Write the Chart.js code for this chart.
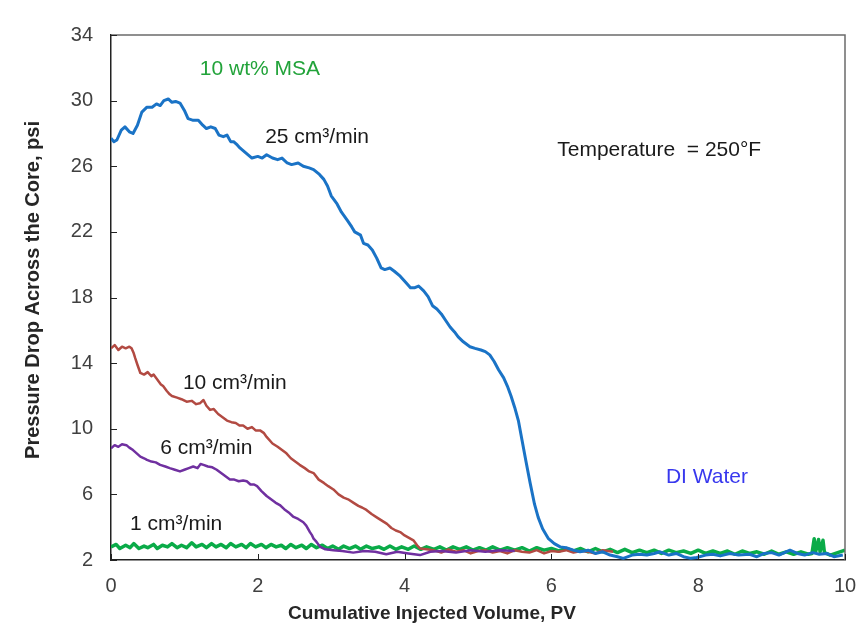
<!DOCTYPE html>
<html>
<head>
<meta charset="utf-8">
<title>Pressure drop vs injected volume</title>
<script src="https://cdn.jsdelivr.net/npm/chart.js@4.4.0/dist/chart.umd.min.js"></script>
<style>
  html, body { margin: 0; padding: 0; background: #fff; }
  #wrap { width: 859px; height: 633px; }
</style>
</head>
<body>
<div id="wrap"><canvas id="pressureChart" width="859" height="633"></canvas></div>
<script>
// axis ticks
const xTicks = [0, 2, 4, 6, 8, 10];
const yTicks = [2, 6, 10, 14, 18, 22, 26, 30, 34];

// [PV, psi] for each injection rate
const rate25 = [
  [0, 27.7], [0.04, 27.5], [0.08, 27.6], [0.14, 28.2], [0.19, 28.4], [0.25, 28.1], [0.30, 28.0],
  [0.36, 28.5], [0.42, 29.3], [0.49, 29.6], [0.56, 29.6], [0.62, 29.8], [0.67, 29.7], [0.72, 30.0],
  [0.78, 30.1], [0.83, 29.9], [0.88, 29.95], [0.94, 29.85], [1.0, 29.4], [1.05, 28.9], [1.12, 28.8],
  [1.19, 28.8], [1.25, 28.5], [1.30, 28.3], [1.36, 28.4], [1.42, 28.3], [1.47, 27.9], [1.53, 27.8],
  [1.58, 27.9], [1.63, 27.5], [1.67, 27.5], [1.72, 27.3], [1.76, 27.1], [1.84, 26.8], [1.92, 26.5],
  [2.0, 26.6], [2.06, 26.5], [2.12, 26.7], [2.2, 26.5], [2.27, 26.4], [2.33, 26.5], [2.40, 26.2],
  [2.46, 26.1], [2.55, 26.2], [2.62, 26.0], [2.70, 25.9], [2.76, 25.8], [2.84, 25.5], [2.90, 25.2],
  [2.95, 24.8], [3.0, 24.2], [3.08, 23.7], [3.14, 23.2], [3.22, 22.7], [3.28, 22.3], [3.32, 22.0],
  [3.40, 21.8], [3.44, 21.3], [3.50, 21.2], [3.56, 20.9], [3.62, 20.4], [3.68, 19.8], [3.73, 19.7],
  [3.80, 19.8], [3.86, 19.6], [3.94, 19.3], [4.02, 18.9], [4.08, 18.6], [4.14, 18.6], [4.19, 18.7],
  [4.26, 18.4], [4.32, 18.05], [4.38, 17.5], [4.44, 17.3], [4.50, 17.0], [4.56, 16.6], [4.62, 16.2],
  [4.68, 15.9], [4.73, 15.6], [4.80, 15.3], [4.89, 15.0], [4.96, 14.9], [5.04, 14.8], [5.10, 14.7],
  [5.16, 14.5], [5.22, 14.1], [5.28, 13.6], [5.35, 13.1], [5.40, 12.6], [5.45, 12.0], [5.50, 11.3],
  [5.55, 10.5], [5.60, 9.3], [5.65, 8.1], [5.71, 6.7], [5.77, 5.4], [5.82, 4.6], [5.88, 3.9],
  [5.96, 3.3], [6.04, 3.0], [6.12, 2.8], [6.2, 2.75], [6.3, 2.6], [6.39, 2.5], [6.5, 2.6],
  [6.6, 2.4], [6.7, 2.5], [6.8, 2.3], [6.9, 2.2], [6.98, 2.1], [7.1, 2.3], [7.2, 2.35], [7.3, 2.3],
  [7.4, 2.4], [7.48, 2.5], [7.6, 2.3], [7.7, 2.4], [7.8, 2.2], [7.9, 2.1], [7.98, 2.15], [8.1, 2.3],
  [8.2, 2.35], [8.3, 2.25], [8.43, 2.4], [8.55, 2.3], [8.7, 2.35], [8.8, 2.2], [8.9, 2.4], [9.0, 2.45],
  [9.1, 2.3], [9.25, 2.6], [9.35, 2.4], [9.45, 2.3], [9.56, 2.45], [9.65, 2.35], [9.75, 2.4],
  [9.85, 2.2], [9.97, 2.3]
];

const rate10 = [
  [0, 14.9], [0.05, 15.1], [0.1, 14.8], [0.15, 15.0], [0.2, 14.9], [0.25, 15.0], [0.28, 14.9],
  [0.31, 14.6], [0.33, 14.3], [0.36, 13.9], [0.40, 13.4], [0.45, 13.3], [0.5, 13.45], [0.55, 13.2],
  [0.58, 13.3], [0.63, 13.0], [0.68, 12.7], [0.71, 12.6], [0.76, 12.3], [0.8, 12.1], [0.83, 12.0],
  [0.9, 11.9], [0.96, 11.8], [1.03, 11.65], [1.1, 11.7], [1.16, 11.5], [1.21, 11.55], [1.26, 11.75],
  [1.3, 11.4], [1.35, 11.15], [1.4, 11.2], [1.46, 10.9], [1.52, 10.7], [1.58, 10.5], [1.64, 10.4],
  [1.7, 10.35], [1.75, 10.2], [1.8, 10.2], [1.86, 10.0], [1.92, 10.1], [1.97, 9.9], [2.03, 9.9],
  [2.08, 9.75], [2.12, 9.5], [2.2, 9.1], [2.27, 8.9], [2.33, 8.7], [2.39, 8.5], [2.45, 8.2],
  [2.51, 8.0], [2.57, 7.8], [2.64, 7.6], [2.7, 7.4], [2.76, 7.3], [2.83, 6.9], [2.9, 6.7],
  [2.96, 6.5], [3.03, 6.3], [3.1, 6.0], [3.17, 5.8], [3.23, 5.7], [3.3, 5.5], [3.37, 5.3],
  [3.42, 5.2], [3.48, 5.05], [3.55, 4.8], [3.62, 4.6], [3.69, 4.4], [3.76, 4.2], [3.82, 3.95],
  [3.88, 3.8], [3.94, 3.7], [4.0, 3.5], [4.06, 3.35], [4.12, 3.2], [4.17, 2.9], [4.21, 2.7],
  [4.3, 2.65], [4.39, 2.6], [4.5, 2.45], [4.6, 2.65], [4.7, 2.5], [4.8, 2.6], [4.9, 2.4],
  [5.0, 2.55], [5.1, 2.6], [5.2, 2.45], [5.3, 2.55], [5.4, 2.4], [5.5, 2.6], [5.6, 2.5],
  [5.7, 2.45], [5.8, 2.6], [5.9, 2.4], [6.0, 2.55], [6.1, 2.5], [6.2, 2.6], [6.3, 2.45],
  [6.4, 2.55], [6.5, 2.5], [6.6, 2.4], [6.7, 2.6], [6.84, 2.5]
];

const rate6 = [
  [0, 8.8], [0.05, 9.0], [0.1, 8.9], [0.15, 9.05], [0.21, 9.0], [0.25, 8.85], [0.3, 8.7],
  [0.35, 8.5], [0.4, 8.3], [0.45, 8.2], [0.49, 8.1], [0.55, 8.0], [0.61, 7.95], [0.67, 7.8],
  [0.74, 7.7], [0.8, 7.6], [0.87, 7.5], [0.94, 7.4], [1.0, 7.5], [1.06, 7.6], [1.12, 7.7],
  [1.18, 7.6], [1.22, 7.85], [1.26, 7.8], [1.32, 7.7], [1.38, 7.65], [1.44, 7.5], [1.5, 7.3],
  [1.56, 7.1], [1.62, 6.9], [1.68, 6.9], [1.74, 6.8], [1.8, 6.85], [1.85, 6.8], [1.9, 6.6],
  [1.95, 6.6], [1.99, 6.5], [2.05, 6.2], [2.12, 5.9], [2.18, 5.7], [2.24, 5.5], [2.3, 5.35],
  [2.36, 5.1], [2.42, 4.9], [2.48, 4.65], [2.55, 4.5], [2.62, 4.3], [2.66, 4.1], [2.71, 3.7],
  [2.74, 3.5], [2.76, 3.3], [2.8, 3.1], [2.85, 2.8], [2.92, 2.65], [3.03, 2.6], [3.15, 2.55],
  [3.3, 2.45], [3.45, 2.55], [3.6, 2.5], [3.75, 2.35], [3.9, 2.5], [4.05, 2.4], [4.21, 2.3],
  [4.35, 2.5], [4.5, 2.55], [4.7, 2.45], [4.9, 2.6], [5.1, 2.5], [5.3, 2.6], [5.5, 2.55]
];

const rate1 = [
  [0, 2.8], [0.07, 2.95], [0.12, 2.7], [0.2, 2.9], [0.26, 2.75], [0.31, 3.0], [0.38, 2.7], [0.45, 2.85],
  [0.5, 2.75], [0.58, 2.95], [0.63, 2.7], [0.7, 2.9], [0.77, 2.8], [0.83, 3.0], [0.9, 2.75], [0.96, 2.9],
  [1.03, 2.75], [1.1, 3.05], [1.16, 2.8], [1.24, 2.95], [1.3, 2.75], [1.37, 3.0], [1.43, 2.8], [1.5, 2.95],
  [1.57, 2.75], [1.63, 3.0], [1.7, 2.8], [1.78, 2.95], [1.84, 2.75], [1.9, 3.0], [1.97, 2.8], [2.05, 2.95],
  [2.11, 2.75], [2.18, 2.95], [2.25, 2.8], [2.32, 2.9], [2.38, 2.7], [2.45, 2.95], [2.52, 2.75], [2.6, 2.9],
  [2.66, 2.7], [2.73, 2.95], [2.8, 2.75], [2.88, 2.9], [2.95, 2.7], [3.02, 2.85], [3.1, 2.65], [3.17, 2.85],
  [3.25, 2.7], [3.33, 2.85], [3.4, 2.65], [3.48, 2.85], [3.56, 2.7], [3.65, 2.8], [3.72, 2.65], [3.8, 2.85],
  [3.88, 2.65], [3.96, 2.8], [4.05, 2.65], [4.13, 2.85], [4.22, 2.65], [4.3, 2.8], [4.4, 2.65], [4.48, 2.8],
  [4.57, 2.6], [4.66, 2.8], [4.75, 2.65], [4.84, 2.8], [4.93, 2.6], [5.02, 2.75], [5.11, 2.6], [5.2, 2.8],
  [5.3, 2.6], [5.4, 2.75], [5.5, 2.6], [5.6, 2.75], [5.7, 2.55], [5.8, 2.75], [5.9, 2.6], [6.0, 2.7],
  [6.1, 2.55], [6.2, 2.7], [6.3, 2.55], [6.4, 2.7], [6.5, 2.5], [6.6, 2.7], [6.7, 2.5], [6.8, 2.65],
  [6.9, 2.45], [7.0, 2.65], [7.1, 2.45], [7.2, 2.6], [7.3, 2.45], [7.4, 2.6], [7.5, 2.4], [7.6, 2.6],
  [7.7, 2.45], [7.8, 2.55], [7.9, 2.4], [8.0, 2.6], [8.1, 2.4], [8.2, 2.55], [8.3, 2.4], [8.4, 2.55],
  [8.5, 2.35], [8.6, 2.55], [8.7, 2.4], [8.8, 2.5], [8.9, 2.35], [9.0, 2.55], [9.1, 2.35], [9.2, 2.5],
  [9.3, 2.35], [9.4, 2.5], [9.5, 2.35], [9.55, 2.4], [9.58, 3.3], [9.6, 2.5], [9.64, 3.25], [9.66, 2.5],
  [9.7, 3.2], [9.72, 2.45], [9.8, 2.3], [9.9, 2.45], [10.0, 2.6]
];

const FONT = '"Liberation Sans", Arial, sans-serif';

function toPoints(rows) {
  return rows.map(r => ({ x: r[0], y: r[1] }));
}

// labels written on the plot, placed in data units
const notes = [
  { text: '10 wt% MSA', x: 1.21, y: 31.9, color: '#22a33a' },
  { text: '25 cm³/min', x: 2.10, y: 27.8, color: '#1a1a1a' },
  { text: 'Temperature  = 250°F', x: 6.08, y: 27.0, color: '#1a1a1a' },
  { text: '10 cm³/min', x: 0.98, y: 12.8, color: '#1a1a1a' },
  { text: '6 cm³/min', x: 0.67, y: 8.83, color: '#1a1a1a' },
  { text: '1 cm³/min', x: 0.26, y: 4.2, color: '#1a1a1a' },
  { text: 'DI Water', x: 7.56, y: 7.06, color: '#3838ee' }
];

const framePlugin = {
  id: 'frame',
  afterDraw(chart) {
    const ctx = chart.ctx;
    const a = chart.chartArea;
    const xs = chart.scales.x;
    const ys = chart.scales.y;
    ctx.save();

    // grey box on top and right
    ctx.strokeStyle = '#6b6b6b';
    ctx.lineWidth = 1.5;
    ctx.beginPath();
    ctx.moveTo(a.left, a.top);
    ctx.lineTo(a.right, a.top);
    ctx.lineTo(a.right, a.bottom);
    ctx.stroke();

    // inward tick marks
    ctx.strokeStyle = '#222';
    ctx.lineWidth = 1;
    ctx.beginPath();
    yTicks.forEach(v => {
      const py = Math.round(ys.getPixelForValue(v)) + 0.5;
      ctx.moveTo(a.left, py);
      ctx.lineTo(a.left + 6, py);
    });
    xTicks.forEach(v => {
      const px = Math.round(xs.getPixelForValue(v)) + 0.5;
      ctx.moveTo(px, a.bottom);
      ctx.lineTo(px, a.bottom - 6);
    });
    ctx.stroke();

    // text on the plot
    ctx.font = '21px ' + FONT;
    ctx.textAlign = 'left';
    ctx.textBaseline = 'middle';
    notes.forEach(n => {
      ctx.fillStyle = n.color;
      ctx.fillText(n.text, xs.getPixelForValue(n.x), ys.getPixelForValue(n.y));
    });

    // axis titles
    ctx.fillStyle = '#262626';
    ctx.font = 'bold 19px ' + FONT;
    ctx.textAlign = 'center';
    ctx.fillText('Cumulative Injected Volume, PV', 432, 614);
    ctx.translate(33, 290);
    ctx.rotate(-Math.PI / 2);
    ctx.font = 'bold 20px ' + FONT;
    ctx.fillText('Pressure Drop Across the Core, psi', 0, 0);
    ctx.restore();
  }
};

const ctx = document.getElementById('pressureChart').getContext('2d');

const pressureChart = new Chart(ctx, {
  type: 'line',
  data: {
    datasets: [
      { label: '25 cm³/min', data: toPoints(rate25), borderColor: '#1a73c6', borderWidth: 3 },
      { label: '6 cm³/min', data: toPoints(rate6), borderColor: '#7030a0', borderWidth: 2.5 },
      { label: '10 cm³/min', data: toPoints(rate10), borderColor: '#b24a42', borderWidth: 2.5 },
      { label: '1 cm³/min', data: toPoints(rate1), borderColor: '#0aab48', borderWidth: 3.5 }
    ]
  },
  options: {
    responsive: false,
    animation: false,
    devicePixelRatio: 1,
    elements: {
      point: { radius: 0 },
      line: { tension: 0, fill: false, borderJoinStyle: 'round' }
    },
    layout: { padding: { top: 35, right: 14, left: 0, bottom: 0 } },
    plugins: {
      legend: { display: false },
      tooltip: { enabled: false }
    },
    scales: {
      x: {
        type: 'linear',
        min: 0,
        max: 10,
        grid: { display: false, drawTicks: false },
        border: { display: true, color: '#222', width: 1.5 },
        afterBuildTicks: s => { s.ticks = xTicks.map(v => ({ value: v })); },
        afterFit: s => {
          s.height = 73;
          // let the "10" label hang past the plot edge
          s.paddingLeft = 0;
          s.paddingRight = 0;
        },
        ticks: { color: '#404040', padding: 14, font: { family: FONT, size: 20 } }
      },
      y: {
        min: 2,
        max: 34,
        grid: { display: false, drawTicks: false },
        border: { display: true, color: '#222', width: 1.5 },
        afterBuildTicks: s => { s.ticks = yTicks.map(v => ({ value: v })); },
        afterFit: s => { s.width = 111; },
        ticks: { color: '#404040', padding: 18, font: { family: FONT, size: 20 } }
      }
    }
  },
  plugins: [framePlugin]
});
</script>
</body>
</html>
